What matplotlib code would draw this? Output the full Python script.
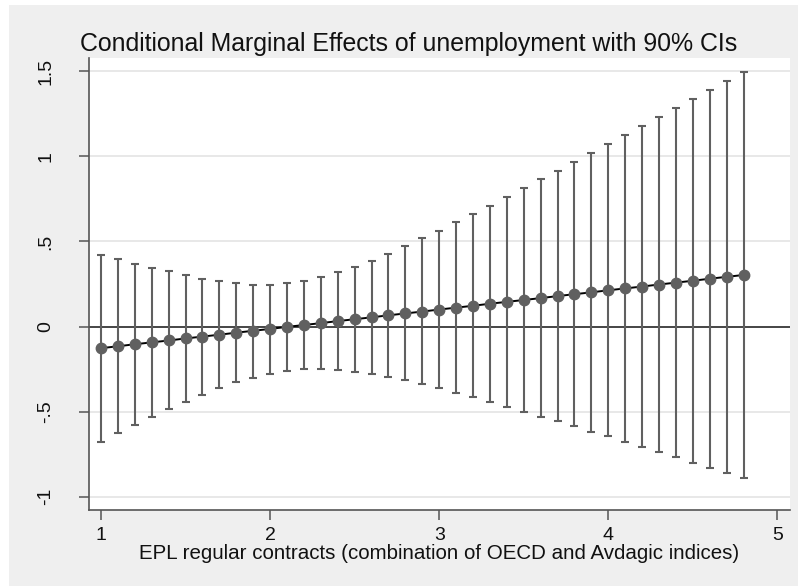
import matplotlib
matplotlib.use("Agg")
import matplotlib.pyplot as plt
from matplotlib.patches import Rectangle

plt.rcParams['font.family'] = ['Liberation Sans', 'DejaVu Sans']

# EPL values where the marginal effect was evaluated
epl = [1.0, 1.1, 1.2, 1.3, 1.4, 1.5, 1.6, 1.7, 1.8, 1.9,
       2.0, 2.1, 2.2, 2.3, 2.4, 2.5, 2.6, 2.7, 2.8, 2.9,
       3.0, 3.1, 3.2, 3.3, 3.4, 3.5, 3.6, 3.7, 3.8, 3.9,
       4.0, 4.1, 4.2, 4.3, 4.4, 4.5, 4.6, 4.7, 4.8]

# marginal effect of unemployment (point estimate)
effect = [-0.127, -0.116, -0.104, -0.093, -0.082, -0.070, -0.059, -0.048, -0.036, -0.025,
          -0.014, -0.002, 0.009, 0.020, 0.032, 0.043, 0.054, 0.066, 0.077, 0.088,
          0.100, 0.111, 0.122, 0.134, 0.145, 0.156, 0.167, 0.179, 0.190, 0.201,
          0.213, 0.224, 0.235, 0.247, 0.258, 0.269, 0.281, 0.292, 0.303]

# 90% confidence bounds
ci_upper = [0.422, 0.394, 0.369, 0.345, 0.324, 0.300, 0.282, 0.267, 0.253, 0.247,
            0.247, 0.253, 0.269, 0.290, 0.318, 0.351, 0.388, 0.429, 0.473, 0.518,
            0.563, 0.612, 0.661, 0.710, 0.763, 0.812, 0.865, 0.916, 0.967, 1.020,
            1.073, 1.128, 1.179, 1.234, 1.285, 1.339, 1.392, 1.445, 1.498]
ci_lower = [-0.679, -0.627, -0.578, -0.531, -0.484, -0.441, -0.400, -0.363, -0.327, -0.300,
            -0.276, -0.259, -0.251, -0.251, -0.255, -0.265, -0.278, -0.296, -0.316, -0.339,
            -0.363, -0.388, -0.416, -0.441, -0.471, -0.500, -0.529, -0.557, -0.586, -0.618,
            -0.645, -0.678, -0.708, -0.737, -0.769, -0.800, -0.829, -0.861, -0.892]

xticks = [1, 2, 3, 4, 5]
yticks = [-1, -0.5, 0, 0.5, 1, 1.5]
ytick_labels = ['-1', '-.5', '0', '.5', '1', '1.5']

W, H = 798, 586
fig = plt.figure(figsize=(W / 100, H / 100), dpi=100)
fig.patch.set_facecolor('white')
# grey graph region (small white strip on the left and top like the export)
fig.patches.append(Rectangle((9 / W, 0), 1, 1 - 5 / H, transform=fig.transFigure,
                             facecolor='#efefef', edgecolor='none', zorder=-10))

ax = fig.add_axes([89 / W, 1 - 510 / H, (790 - 89) / W, (510 - 58) / H])
ax.set_facecolor('white')

grey = '#606060'
err_lo = [e - l for e, l in zip(effect, ci_lower)]
err_hi = [u - e for e, u in zip(effect, ci_upper)]

for y in yticks:
    ax.axhline(y, color='#e6e6e6', lw=1.3, zorder=0)
ax.axhline(0, color='#3a3a3a', lw=1.3, zorder=1)

ax.errorbar(epl, effect, yerr=[err_lo, err_hi], fmt='none', ecolor=grey,
            elinewidth=1.5, capsize=3.2, capthick=1.5, zorder=2)
ax.plot(epl, effect, color='black', lw=1.4, zorder=3)
ax.plot(epl, effect, 'o', color=grey, ms=7.5, mec=grey, zorder=4)

ax.set_xlim(0.929, 5.075)
ax.set_ylim(-1.078, 1.578)
ax.set_xticks(xticks)
ax.set_xticklabels([str(t) for t in xticks])
ax.set_yticks(yticks)
ax.set_yticklabels(ytick_labels, rotation=90, va='center')

for s in ['top', 'right']:
    ax.spines[s].set_visible(False)
for s in ['left', 'bottom']:
    ax.spines[s].set_color('#555555')
    ax.spines[s].set_linewidth(1.2)

ax.tick_params(axis='both', direction='out', length=7, width=1.1, color='#555555',
               labelsize=14, labelcolor='#111111')
ax.tick_params(axis='y', pad=18)
ax.tick_params(axis='x', pad=5)

ax.set_xlabel('EPL regular contracts (combination of OECD and Avdagic indices)',
              fontsize=14.8, color='#111111', labelpad=0)
fig.text(80 / W, 1 - 51 / H, 'Conditional Marginal Effects of unemployment with 90% CIs',
         fontsize=17.9, color='#111111', ha='left', va='baseline')

fig.savefig('out.png', dpi=100, facecolor=fig.get_facecolor())
